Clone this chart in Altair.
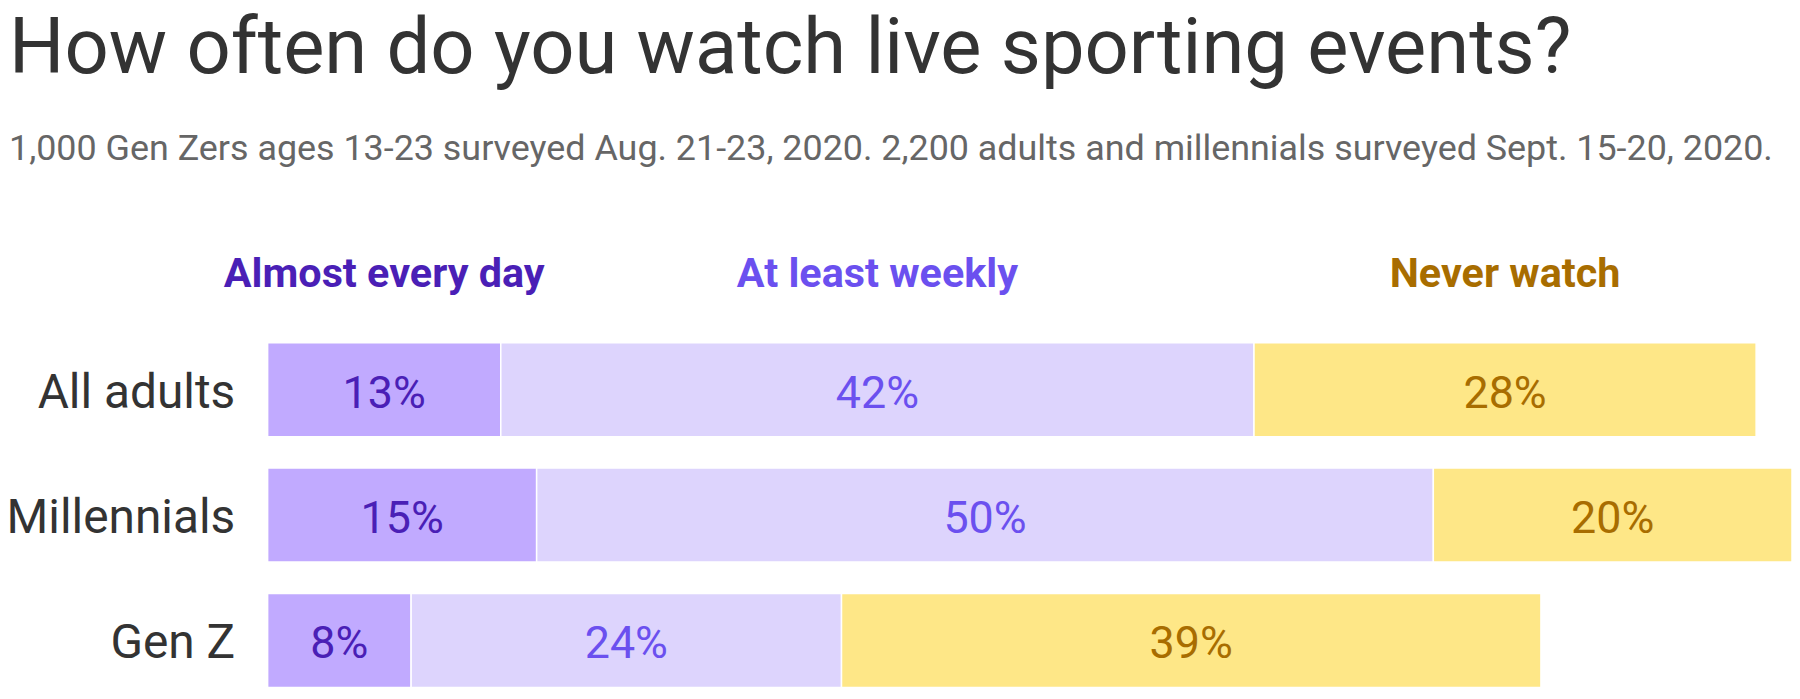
import altair as alt
import pandas as pd

groups = ["All adults", "Millennials", "Gen Z"]
categories = ["Almost every day", "At least weekly", "Never watch"]
almost_every_day = [13, 15, 8]
at_least_weekly = [42, 50, 24]
never_watch = [28, 20, 39]
bar_colors = ["#C1AAFF", "#DDD4FD", "#FEE787"]
text_colors = ["#4A1FB6", "#6B50EF", "#A86D00"]

series = [almost_every_day, at_least_weekly, never_watch]
rows = []
for ci, cat in enumerate(categories):
    for gi, g in enumerate(groups):
        rows.append({
            "group": g,
            "category": cat,
            "order": ci,
            "value": series[ci][gi],
            "label": f"{series[ci][gi]}%",
            "bar_color": bar_colors[ci],
            "text_color": text_colors[ci],
        })
df = pd.DataFrame(rows)

FONT = "Roboto"

base = alt.Chart(df).transform_stack(
    stack="value", groupby=["group"], as_=["x0", "x1"], sort=[alt.SortField("order")]
).transform_calculate(mid="(datum.x0 + datum.x1) / 2")

yenc = alt.Y(
    "group:N",
    sort=groups,
    scale=alt.Scale(paddingInner=0.25, paddingOuter=0),
    axis=alt.Axis(
        title=None, domain=False, ticks=False, grid=False,
        labelFontSize=48, labelColor="#333333", labelFont=FONT,
        labelPadding=33, labelLimit=400, labelOffset=4,
    ),
)
xscale = alt.Scale(domain=[0, 85], nice=False, zero=True)

bars = base.mark_bar(stroke="white", strokeWidth=1.5).encode(
    x=alt.X("x0:Q", scale=xscale, axis=None),
    x2="x1:Q",
    y=yenc,
    color=alt.Color("bar_color:N", scale=None),
)

pct = base.mark_text(font=FONT, fontSize=45, baseline="middle", align="center", dy=4).encode(
    x=alt.X("mid:Q", scale=xscale, axis=None),
    y=yenc,
    text="label:N",
    color=alt.Color("text_color:N", scale=None),
)

headers = base.transform_filter(alt.datum.group == "All adults").mark_text(
    font=FONT, fontSize=41.5, fontWeight="bold", baseline="alphabetic", align="center", dy=-56
).encode(
    x=alt.X("mid:Q", scale=xscale, axis=None),
    y=alt.value(0),
    text="category:N",
    color=alt.Color("text_color:N", scale=None),
)

chart = alt.layer(bars, pct, headers).properties(
    width=1530,
    height=346,
    padding={"left": 260.6, "top": 334.7, "right": 0, "bottom": 0},
    autosize="none",
    title=alt.TitleParams(
        text="How often do you watch live sporting events?",
        subtitle="1,000 Gen Zers ages 13-23 surveyed Aug. 21-23, 2020. 2,200 adults and millennials surveyed Sept. 15-20, 2020.",
        anchor="start",
        frame="group",
        dx=-259.6,
        font=FONT,
        fontSize=78,
        fontWeight="normal",
        color="#333333",
        subtitleFont=FONT,
        subtitleFontSize=36,
        subtitleColor="#666666",
        subtitlePadding=44,
        offset=87,
    ),
).configure_view(stroke=None)

chart.save("out.html", embed_options={"renderer": "svg", "actions": False})
